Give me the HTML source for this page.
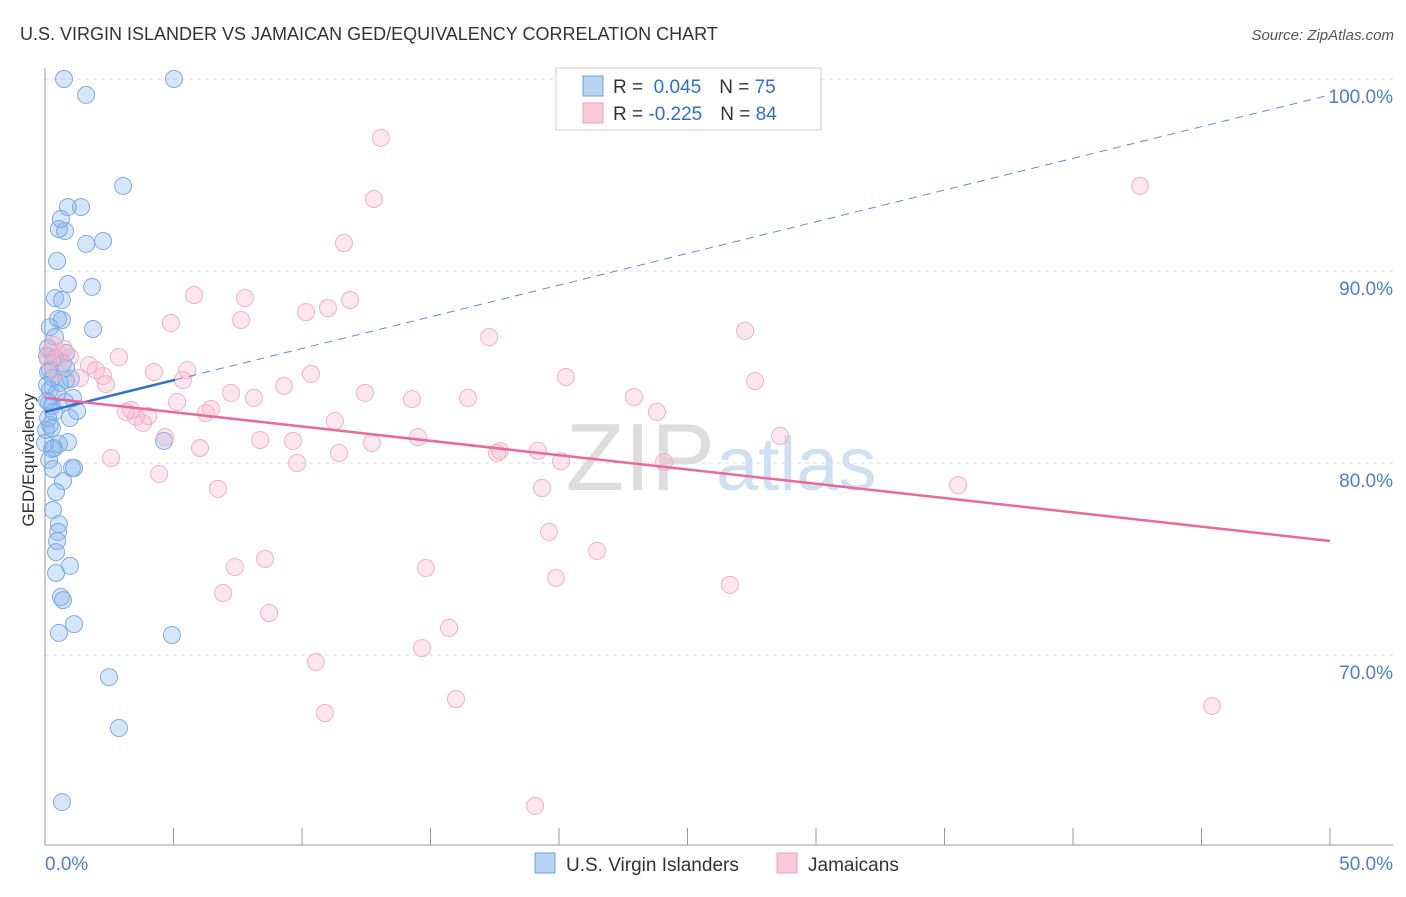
<!DOCTYPE html>
<html><head><meta charset="utf-8"><style>
body{margin:0;background:#fff;font-family:"Liberation Sans",sans-serif}
svg text{font-family:"Liberation Sans",sans-serif}
</style></head><body>
<svg id="chart" width="1406" height="892">
<text x="20" y="40" font-size="18" fill="#333">U.S. VIRGIN ISLANDER VS JAMAICAN GED/EQUIVALENCY CORRELATION CHART</text>
<text x="1394" y="40" font-size="15" fill="#555" font-style="italic" text-anchor="end">Source: ZipAtlas.com</text>
<text x="715" y="490" font-size="96" fill="#ddd" font-family="Liberation Serif" text-anchor="end">ZIP</text>
<text x="716" y="490" font-size="76" fill="#cfe0f3">atlas</text>
<g id="grid"></g>
<g id="axes"></g>
<g id="pts"></g>
<g id="trends"></g>
<text transform="translate(34,460) rotate(-90)" font-size="17" fill="#333" text-anchor="middle">GED/Equivalency</text>
<g>
<rect x="556" y="68" width="265" height="62" fill="#fff" stroke="#ccc"/>
<rect x="583" y="76" width="20" height="20" fill="#b8d4f5" stroke="#6a9fe0"/>
<rect x="583" y="103" width="20" height="20" fill="#fbc9d8" stroke="#f0a0bc"/>
<text x="613" y="93" font-size="19" fill="#333">R = <tspan fill="#2f6fd0">&#160;0.045</tspan><tspan dx="18">N = </tspan><tspan fill="#2f6fd0">75</tspan></text>
<text x="613" y="120" font-size="19" fill="#333">R = <tspan fill="#2f6fd0">-0.225</tspan><tspan dx="18">N = </tspan><tspan fill="#2f6fd0">84</tspan></text>
</g>
<g>
<rect x="535" y="853" width="20" height="20" fill="#b8d4f5" stroke="#6a9fe0"/>
<text x="566" y="871" font-size="19" fill="#333">U.S. Virgin Islanders</text>
<rect x="777" y="853" width="20" height="20" fill="#fbc9d8" stroke="#f0a0bc"/>
<text x="808" y="871" font-size="19" fill="#333">Jamaicans</text>
</g>
</svg>
<script>
const xTicks=[0,5,10,15,20,25,30,35,40,45,50];
const yTicks=[70,80,90,100];
const yTickLabels=["70.0%","80.0%","90.0%","100.0%"];
const blueX=[0.74,5.02,1.6,3.04,0.89,1.4,0.62,0.54,0.78,2.26,1.6,0.47,0.89,1.83,0.39,0.66,0.51,0.66,1.87,0.19,0.12,0.39,0.82,0.19,0.31,0.82,1.01,0.19,0.47,1.09,0.16,0.27,0.78,1.25,0.97,0.19,0.04,0.89,0.54,4.63,0.35,0.27,1.05,1.13,0.31,0.7,0.43,0.31,0.54,0.51,0.47,0.43,0.97,0.43,0.62,0.7,1.13,0.54,4.94,2.49,2.88,0.66,0.08,0.12,0.08,0.08,0.35,0.12,0,0.27,0.58,0.82,0.16,0.7,0.39];
const blueY=[100,100,99.17,94.43,93.33,93.33,92.71,92.19,92.08,91.56,91.41,90.52,89.32,89.17,88.59,88.49,87.5,87.45,86.98,87.08,85.99,85.47,85.73,84.84,84.43,84.32,84.38,83.8,83.65,83.39,83.13,82.97,83.18,82.71,82.34,81.98,81.72,81.09,80.99,81.15,80.78,80.73,79.74,79.74,79.69,79.06,78.49,77.55,76.82,76.41,75.94,75.36,74.64,74.27,73.02,72.86,71.61,71.15,71.04,68.85,66.2,62.34,85.57,84.74,84.06,83.23,82.66,82.34,81.04,81.82,84.17,84.95,80.16,85.21,86.56];
const pinkX=[13.07,12.8,42.61,11.63,5.8,7.78,11.87,10.16,11.01,7.63,4.9,17.28,27.24,0.35,0.58,0.97,2.88,1.71,5.53,1.98,4.24,10.35,1.36,2.26,0.43,5.37,20.27,27.63,2.37,9.3,7.24,12.45,8.13,14.28,16.46,22.92,5.14,6.46,6.26,3.15,3.35,4.01,3.54,3.81,23.81,11.28,4.67,14.51,28.6,8.37,9.65,12.72,6.03,11.44,17.7,19.18,17.59,2.57,20.08,9.81,24.09,4.44,6.73,19.34,35.53,19.61,21.48,8.56,7.39,14.82,19.88,26.65,6.93,8.72,15.72,14.67,10.54,15.99,45.41,10.89,19.07,0.12,0.19,0.74];
const pinkY=[96.93,93.75,94.43,91.46,88.75,88.59,88.49,87.86,88.07,87.45,87.29,86.56,86.88,86.15,85.63,85.52,85.52,85.1,84.84,84.84,84.74,84.64,84.43,84.53,84.74,84.32,84.48,84.27,84.11,84.01,83.65,83.65,83.39,83.33,83.39,83.44,83.18,82.81,82.6,82.66,82.76,82.45,82.4,82.08,82.66,82.19,81.35,81.35,81.41,81.2,81.15,81.04,80.78,80.52,80.63,80.63,80.52,80.26,80.1,80,80.05,79.43,78.65,78.7,78.85,76.41,75.42,75,74.58,74.53,74.01,73.65,73.23,72.19,71.41,70.36,69.64,67.71,67.34,66.98,62.14,85.36,85.78,85.94];
const blueTrend=[82.66,99.17];
const pinkTrend=[83.39,75.94];
const X=v=>45+v*25.7, Y=v=>79+(100-v)*19.2;
const NS="http://www.w3.org/2000/svg";
function mk(tag,attrs,parent){const e=document.createElementNS(NS,tag);for(const k in attrs)e.setAttribute(k,attrs[k]);parent.appendChild(e);return e;}
const grid=document.getElementById('grid'),axes=document.getElementById('axes'),pts=document.getElementById('pts'),tr=document.getElementById('trends');
yTicks.forEach((t,i)=>{
 const l=mk('line',{x1:45,x2:1393,y1:Y(t),y2:Y(t),stroke:'#ddd','stroke-dasharray':'4,4'},grid);
 
 
 const tx=mk('text',{x:1393,y:Y(t)+24,'font-size':19,fill:'#4a7fd4','text-anchor':'end'},axes);
 tx.textContent=yTickLabels[i];
 
 
});
mk('line',{x1:45,x2:45,y1:68,y2:845,stroke:'#999'},axes);
mk('line',{x1:45,x2:1393,y1:845,y2:845,stroke:'#999'},axes);
xTicks.forEach(t=>{
 const l=mk('line',{x1:X(t),x2:X(t),y1:828,y2:845,stroke:'#999'},axes);
 
 
});
const xl0=mk('text',{x:45,y:870,'font-size':19,fill:'#4a7fd4'},axes);xl0.textContent='0.0%';


const xl1=mk('text',{x:1393,y:870,'font-size':19,fill:'#4a7fd4','text-anchor':'end'},axes);xl1.textContent='50.0%';


blueX.forEach((v,i)=>{
 const c=mk('circle',{cx:X(v),cy:Y(blueY[i]),r:8.5,fill:'rgba(130,178,238,0.33)',stroke:'#7eaae6','stroke-width':1},pts);
 
 
});
pinkX.forEach((v,i)=>{
 const c=mk('circle',{cx:X(v),cy:Y(pinkY[i]),r:8.5,fill:'rgba(247,175,200,0.3)',stroke:'#f2b0c6','stroke-width':1},pts);
 
 
});
const bAt=x=>blueTrend[0]+(blueTrend[1]-blueTrend[0])*x/50;
const bd=mk('line',{x1:X(5.06),y1:Y(bAt(5.06)),x2:X(50),y2:Y(bAt(50)),stroke:'#5b8fd9','stroke-width':1,'stroke-dasharray':'8,6'},tr);


const bs=mk('line',{x1:X(0),y1:Y(bAt(0)),x2:X(5.06),y2:Y(bAt(5.06)),stroke:'#2e6fd6','stroke-width':2.5},tr);


const ps=mk('line',{x1:X(0),y1:Y(pinkTrend[0]),x2:X(50),y2:Y(pinkTrend[1]),stroke:'#e8699a','stroke-width':2.5},tr);


</script>
</body></html>
